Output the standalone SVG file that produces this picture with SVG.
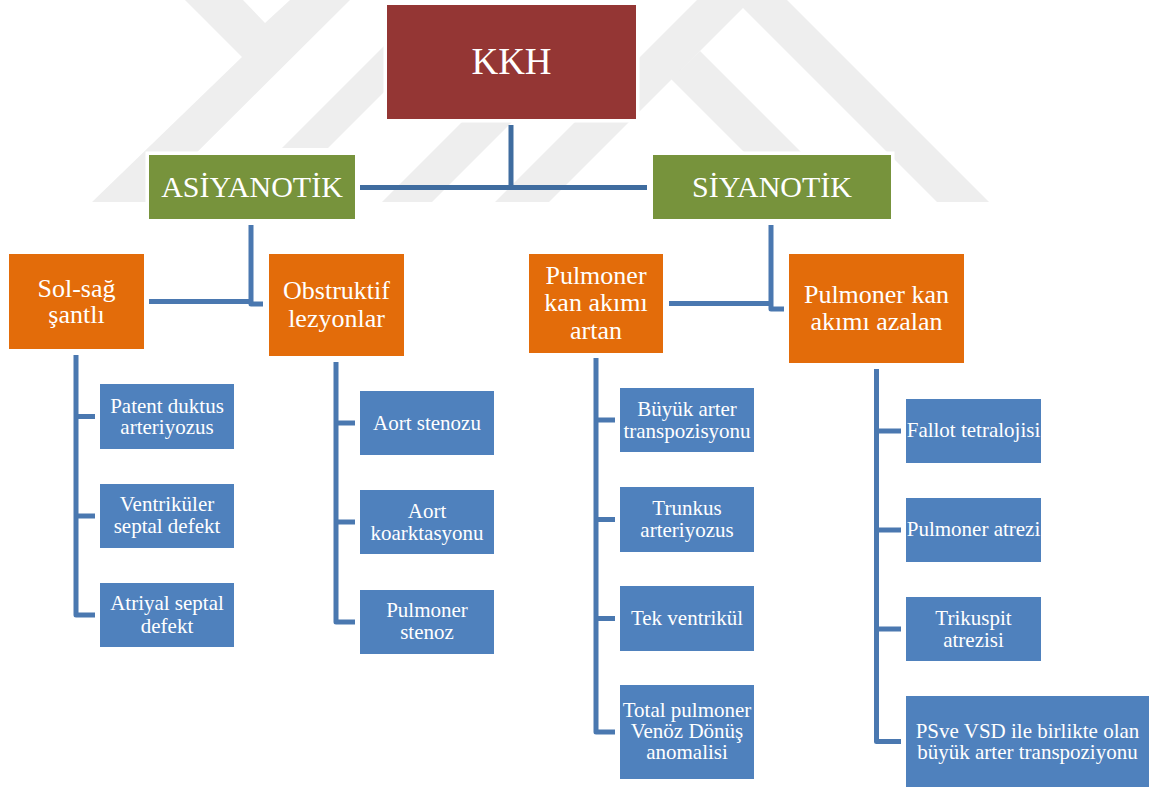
<svg xmlns="http://www.w3.org/2000/svg" width="1152" height="787" viewBox="0 0 1152 787">
<style>
.wm{fill:#EEEEEE}
.box{stroke:#FFFFFF;stroke-width:7;paint-order:stroke}
.red{fill:#943634}
.green{fill:#77933C}
.orange{fill:#E36C0A}
.blue{fill:#4F81BD}
text{font-family:"Liberation Serif","Times New Roman",serif;fill:#FFFFFF;text-anchor:middle}
.t37{font-size:37px}
.t30{font-size:30px}
.t26{font-size:26px}
.t21{font-size:21px}
.conn{fill:none;stroke:#4A78B0;stroke-width:5;stroke-linejoin:round}
.conn.top{stroke:#3F6C9F}
</style>
<rect width="1152" height="787" fill="#FFFFFF"/>
<g id="watermark">
<polygon class="wm" points="185,0 243,0 265,23 290,0 350,0 147,202 92,202 242,57"/>
<polygon class="wm" points="282,148 328,148 440,36 394,36"/>
<polygon class="wm" points="382,202 432,202 520,114 470,114"/>
<polygon class="wm" points="495,202 697,0 787,0 989,202 937,202 743,8 549,202"/>
<polygon class="wm" points="700,51 851,202 794,202 671,79"/>
</g>
<g id="connectors">
<path class="conn top" d="M511 125 V187"/>
<path class="conn top" d="M360 187.5 H647"/>
<path class="conn" d="M149 301.5 H251"/>
<path class="conn" d="M251 225 V304 H263"/>
<path class="conn" d="M669 303.5 H770"/>
<path class="conn" d="M771 225 V309 H784"/>
<path class="conn" d="M76 355 V615 H95 M76 416.5 H95 M76 516 H95"/>
<path class="conn" d="M336 362 V622 H355 M336 423 H355 M336 522 H355"/>
<path class="conn" d="M596 358 V732 H615 M596 420 H615 M596 519.5 H615 M596 618.5 H615"/>
<path class="conn" d="M876.5 369 V741.5 H901 M876.5 431 H901 M876.5 530 H901 M876.5 629 H901"/>
</g>
<g id="kkh"><rect class="box red" x="387" y="5" width="249" height="114"/><text class="t37" x="511.5" y="74">KKH</text></g>
<g id="asiyanotik"><rect class="box green" x="149" y="155" width="206" height="64"/><text class="t30" x="252" y="197">ASİYANOTİK</text></g>
<g id="siyanotik"><rect class="box green" x="653" y="155" width="238" height="64"/><text class="t30" x="772" y="197">SİYANOTİK</text></g>
<g id="sol-sag"><rect class="box orange" x="9" y="254" width="135" height="95"/><text class="t26" x="76.5" y="297">Sol-sağ</text><text class="t26" x="76.5" y="323">şantlı</text></g>
<g id="obstruktif"><rect class="box orange" x="269" y="254" width="135" height="102"/><text class="t26" x="336.5" y="299">Obstruktif</text><text class="t26" x="336.5" y="327">lezyonlar</text></g>
<g id="artan"><rect class="box orange" x="529" y="254" width="134" height="99"/><text class="t26" x="596" y="284">Pulmoner</text><text class="t26" x="596" y="311">kan akımı</text><text class="t26" x="596" y="339">artan</text></g>
<g id="azalan"><rect class="box orange" x="789" y="254" width="175" height="109"/><text class="t26" x="876.5" y="303">Pulmoner kan</text><text class="t26" x="876.5" y="330">akımı azalan</text></g>
<g id="patent"><rect class="box blue" x="100" y="384" width="134" height="65"/><text class="t21" x="167" y="412.5">Patent duktus</text><text class="t21" x="167" y="434">arteriyozus</text></g>
<g id="vsd"><rect class="box blue" x="100" y="484" width="134" height="64"/><text class="t21" x="167" y="511">Ventriküler</text><text class="t21" x="167" y="533">septal defekt</text></g>
<g id="asd"><rect class="box blue" x="100" y="583" width="134" height="64"/><text class="t21" x="167" y="610">Atriyal septal</text><text class="t21" x="167" y="632.5">defekt</text></g>
<g id="aort-stenozu"><rect class="box blue" x="360" y="391" width="134" height="64"/><text class="t21" x="427" y="430">Aort stenozu</text></g>
<g id="aort-koarktasyonu"><rect class="box blue" x="360" y="490" width="134" height="64"/><text class="t21" x="427" y="517.5">Aort</text><text class="t21" x="427" y="540">koarktasyonu</text></g>
<g id="pulmoner-stenoz"><rect class="box blue" x="360" y="590" width="134" height="64"/><text class="t21" x="427" y="617">Pulmoner</text><text class="t21" x="427" y="638.5">stenoz</text></g>
<g id="buyuk-arter"><rect class="box blue" x="620" y="388" width="134" height="64"/><text class="t21" x="687" y="415.5">Büyük arter</text><text class="t21" x="687" y="437.5">transpozisyonu</text></g>
<g id="trunkus"><rect class="box blue" x="620" y="487" width="134" height="65"/><text class="t21" x="687" y="515">Trunkus</text><text class="t21" x="687" y="537">arteriyozus</text></g>
<g id="tek-ventrikul"><rect class="box blue" x="620" y="586" width="134" height="65"/><text class="t21" x="687" y="624.5">Tek ventrikül</text></g>
<g id="total-pulmoner"><rect class="box blue" x="620" y="685" width="134" height="94"/><text class="t21" x="687" y="717">Total pulmoner</text><text class="t21" x="687" y="738">Venöz Dönüş</text><text class="t21" x="687" y="759">anomalisi</text></g>
<g id="fallot"><rect class="box blue" x="906" y="399" width="135" height="64"/><text class="t21" x="973.5" y="437">Fallot tetralojisi</text></g>
<g id="pulmoner-atrezi"><rect class="box blue" x="906" y="498" width="135" height="64"/><text class="t21" x="973.5" y="535.5">Pulmoner atrezi</text></g>
<g id="trikuspit"><rect class="box blue" x="906" y="597" width="135" height="64"/><text class="t21" x="973.5" y="624.5">Trikuspit</text><text class="t21" x="973.5" y="646.5">atrezisi</text></g>
<g id="psve-vsd"><rect class="box blue" x="906" y="696" width="243" height="91"/><text class="t21" x="1027.5" y="738">PSve VSD ile birlikte olan</text><text class="t21" x="1027.5" y="759">büyük arter transpoziyonu</text></g>
</svg>
